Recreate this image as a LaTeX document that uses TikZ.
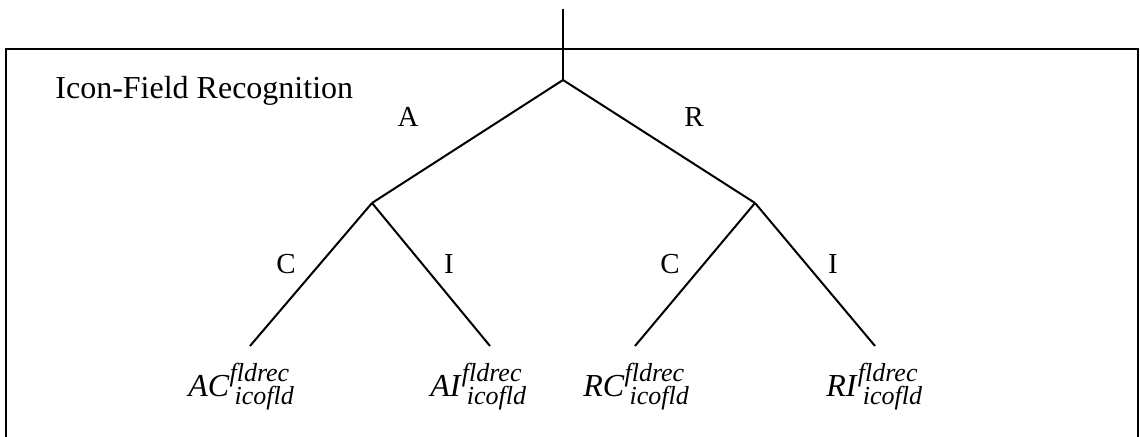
\documentclass[tikz,border=0pt]{standalone}
\usepackage{fontspec}
\setmainfont{Liberation Serif}
\newcommand\scriptlab{\fontsize{13}{13}\selectfont\itshape}
\newcommand\leaflab[1]{\textit{#1}\makebox[0pt][l]{\raisebox{7.5pt}{\scriptlab fldrec}}\hspace{2.5pt}\raisebox{-4pt}{\scriptlab icofld}}
\begin{document}
\begin{tikzpicture}[x=0.5pt,y=-0.5pt,
  frame/.style={line width=1pt},
  edge/.style={line width=1pt},
  branchlab/.style={font=\fontsize{14.5}{14.5}\selectfont, inner sep=0pt, anchor=base},
  titlelab/.style={font=\fontsize{16}{16}\selectfont, inner sep=0pt, anchor=base west},
  leaflabel/.style={font=\fontsize{16}{16}\selectfont, inner sep=0pt, anchor=base west}]
\useasboundingbox (0,0) rectangle (1140,437);
\clip (0,0) rectangle (1140,437);
\fill[white] (0,0) rectangle (1140,437);
% frame (open below the picture)
\coordinate (fbl) at (6,470);
\coordinate (ftl) at (6,49);
\coordinate (ftr) at (1138,49);
\coordinate (fbr) at (1138,470);
\draw[frame] (fbl) -- (ftl) -- (ftr) -- (fbr);
% tree points
\coordinate (top) at (563,9);
\coordinate (root) at (563,80);
\coordinate (a) at (372,203);
\coordinate (r) at (755,203);
\coordinate (ac) at (250,346);
\coordinate (ai) at (490,346);
\coordinate (rc) at (635,346);
\coordinate (ri) at (875,346);
\draw[edge] (top) -- (root);
\draw[edge] (root) -- (a);
\draw[edge] (root) -- (r);
\draw[edge] (a) -- (ac);
\draw[edge] (a) -- (ai);
\draw[edge] (r) -- (rc);
\draw[edge] (r) -- (ri);
% labels
\node[titlelab] (title) at (55,99) {Icon-Field Recognition};
\node[branchlab] (la) at (408,127) {A};
\node[branchlab] (lr) at (694,127) {R};
\node[branchlab] (lac) at (286,274) {C};
\node[branchlab] (lai) at (449,274) {I};
\node[branchlab] (lrc) at (670,274) {C};
\node[branchlab] (lri) at (833,274) {I};
\node[leaflabel] (tac) at (188,397) {\leaflab{AC}};
\node[leaflabel] (tai) at (430,397) {\leaflab{AI}};
\node[leaflabel] (trc) at (583,397) {\leaflab{RC}};
\node[leaflabel] (tri) at (826,397) {\leaflab{RI}};
\end{tikzpicture}
\end{document}
